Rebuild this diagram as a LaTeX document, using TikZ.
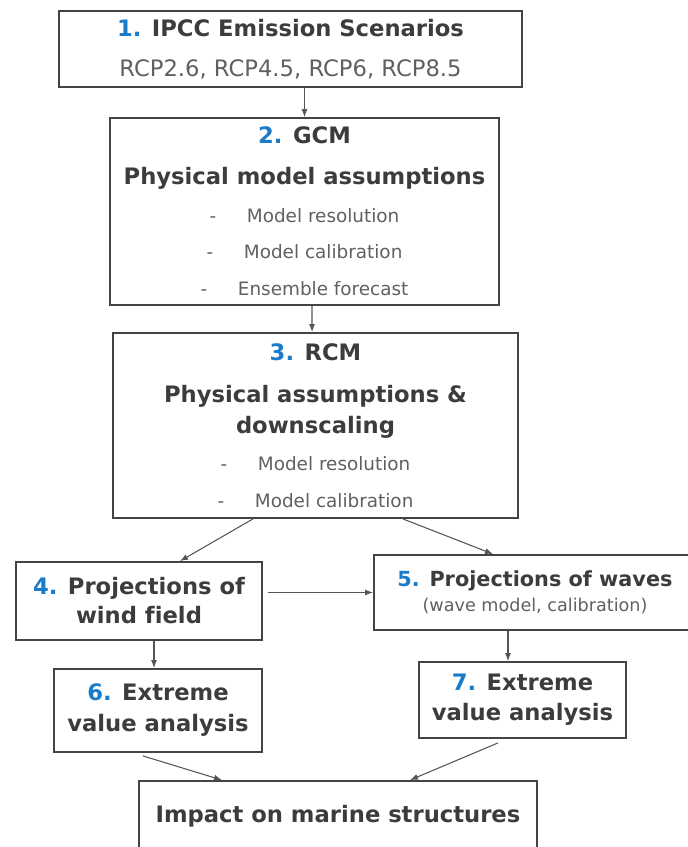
\documentclass[tikz,border=0pt]{standalone}
\usepackage{fontspec}
\setmainfont{DejaVu Sans}[Ligatures=NoCommon]
\usetikzlibrary{arrows.meta}

\definecolor{numblue}{HTML}{1A7BC9}
\definecolor{textgray}{HTML}{3C3C3C}
\definecolor{subgray}{HTML}{606060}
\definecolor{linegray}{HTML}{444444}
\definecolor{arrowgray}{HTML}{555555}

\newcommand{\stepno}[1]{\textcolor{numblue}{#1}}
\newcommand{\subline}[1]{{\fontsize{13.8}{23}\selectfont\mdseries\color{subgray}#1}}
\newcommand{\dashitem}[1]{\subline{-\hspace{23pt}#1}}

\begin{document}
\begin{tikzpicture}[x=0.75pt,y=-0.75pt,>={Latex[length=6pt,width=4.5pt]},
                    box/.style={draw=linegray,line width=1.4pt,align=center,inner sep=0pt,
                                text=textgray,font=\bfseries\fontsize{17}{23}\selectfont}]

  \useasboundingbox (0,0) rectangle (688,847);

  \node[box,minimum width=347.25pt,minimum height=57pt] (b1) at (290.5,49)
    {\stepno{1.} IPCC Emission Scenarios\\[7pt]
     {\mdseries\color{subgray}RCP2.6, RCP4.5, RCP6, RCP8.5}};
  \node[box,minimum width=291.75pt,minimum height=140.25pt] (b2) at (304.5,211.5)
    {\stepno{2.} GCM\\[7.75pt]
     Physical model assumptions\\[5.2pt]
     \dashitem{Model resolution}\\[4pt]
     \dashitem{Model calibration}\\[4.75pt]
     \dashitem{Ensemble forecast}};
  \node[box,minimum width=303.75pt,minimum height=138.75pt] (b3) at (315.5,425.5)
    {\stepno{3.} RCM\\[8.5pt]
     Physical assumptions \&\\[0.25pt]
     downscaling\\[4.5pt]
     \dashitem{Model resolution}\\[4.75pt]
     \dashitem{Model calibration}};
  \node[box,minimum width=184.5pt,minimum height=58.5pt] (b4) at (139,601)
    {\stepno{4.} Projections of\\[-1.25pt] wind field};
  \node[box,minimum width=241.5pt,minimum height=56.25pt,
        font=\bfseries\fontsize{15.6}{23}\selectfont] (b5) at (535,592.5)
    {\stepno{5.} Projections of waves\\[-4.1pt]
     {\fontsize{13.2}{23}\selectfont\mdseries\color{subgray}(wave model, calibration)}};
  \node[box,minimum width=156pt,minimum height=62.25pt] (b6) at (158,710.5)
    {\stepno{6.} Extreme\\[0.25pt] value analysis};
  \node[box,minimum width=155.25pt,minimum height=57pt] (b7) at (522.5,700)
    {\stepno{7.} Extreme\\[-0.5pt] value analysis};
  \node[box,minimum width=298.5pt,minimum height=53.25pt] (b8) at (338,816.5)
    {Impact on marine structures};

  \path[every edge/.style={draw=arrowgray,line width=0.8pt,->}]
    (b1.south -| b2.north) edge (b2.north)
    ([xshift=5.6pt]b2.south) edge ([xshift=-2.6pt]b3.north)
    ([xshift=-46.9pt]b3.south) edge ([xshift=30.75pt]b4.north)
    ([xshift=65.6pt]b3.south) edge ([xshift=-31.5pt]b5.north)
    ([xshift=3.75pt]b4.east |- b5.west) edge (b5.west)
    ([xshift=11.25pt]b4.south) edge ([xshift=11.25pt]b4.south |- b6.north)
    ([xshift=-20.25pt]b5.south) edge ([xshift=-20.25pt]b5.south |- b7.north)
    ([xshift=-11.25pt,yshift=-2.25pt]b6.south) edge ([xshift=-87pt]b8.north)
    ([xshift=-18.4pt,yshift=-3pt]b7.south) edge ([xshift=54pt]b8.north)
;
\end{tikzpicture}
\end{document}
